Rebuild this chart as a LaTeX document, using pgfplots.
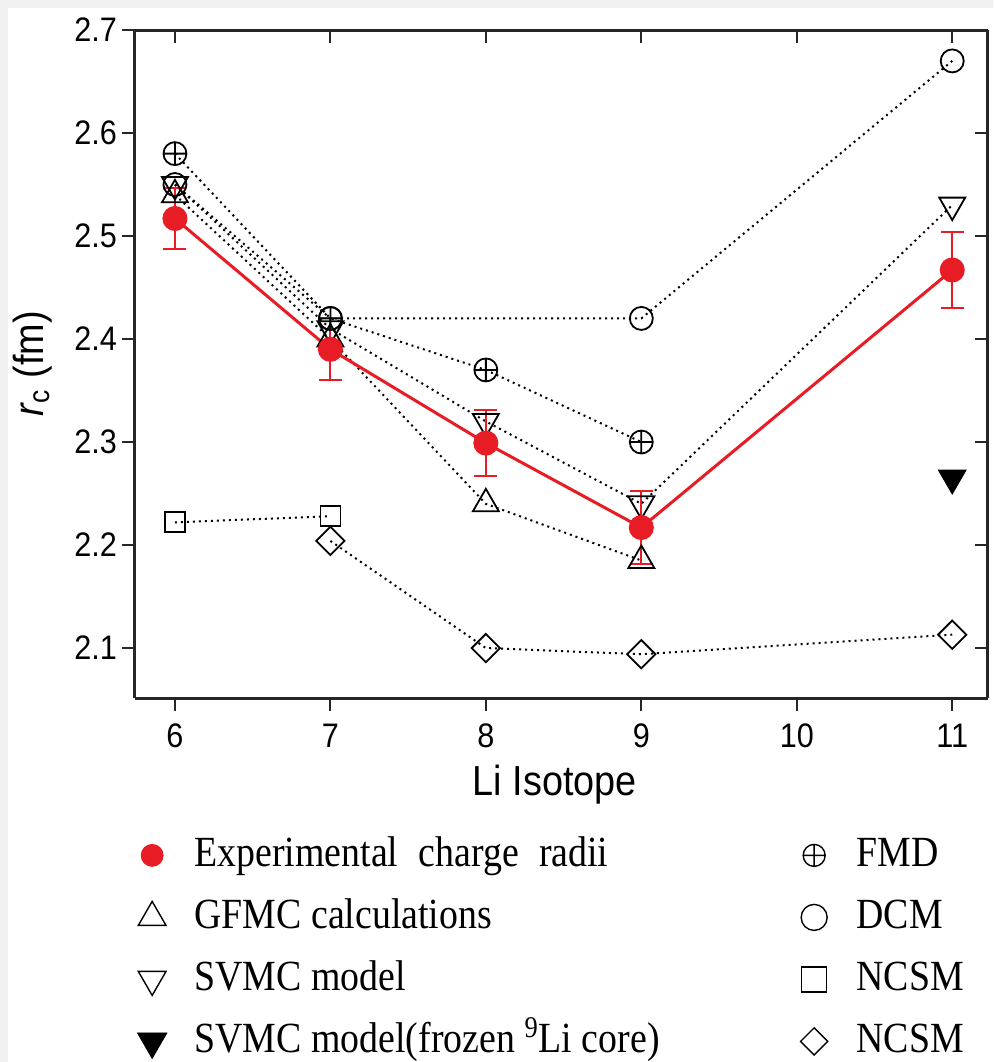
\documentclass[border=0pt]{standalone}
\usepackage{fontspec}
\setmainfont{Liberation Serif}
\newfontfamily\sansc[FakeStretch=0.9]{Liberation Sans}
\newfontfamily\legfont[FakeStretch=0.88]{Liberation Serif}
\usepackage{pgfplots}
\pgfplotsset{compat=1.18}
\usetikzlibrary{plotmarks}
\definecolor{expred}{RGB}{232,28,36}
\pgfplotsset{
  myax/.style={scale only axis, width=426.5pt, height=334pt,
    xmin=5.743, xmax=11.23, ymin=2.0515, ymax=2.7,
    xtick={6,7,8,9,10,11}, ytick={2.1,2.2,2.3,2.4,2.5,2.6,2.7},
    axis line style={line width=1.5pt, black!85},
    major tick length=6.5pt, tick style={line width=1pt, black!85}},
  dotl/.style={black, line width=1pt, dash pattern=on 1pt off 2pt},
  omark/.style={mark options={solid, fill=white, line width=0.9pt, black}},
}
\begin{document}
\begin{tikzpicture}
\useasboundingbox (-67.5pt,-182pt) rectangle (429pt,349pt);
\fill[gray!12] (-67.5pt,-182pt) rectangle (429pt,349pt);
\fill[white] (-63.5pt,-182pt) rectangle (429pt,345pt);
\begin{axis}[myax, axis x line*=bottom, axis y line*=left, tick align=outside,
  ticklabel style={font=\sansc\fontsize{17}{20}\selectfont},
  xticklabel style={yshift=-3pt},
  /pgf/number format/assume math mode=true,
  yticklabel style={xshift=1pt, /pgf/number format/.cd, fixed, fixed zerofill, precision=1},
  xlabel={Li Isotope},
  ylabel={\textit{r}\textsubscript{c} (fm)},
  label style={font=\sansc\fontsize{21}{24}\selectfont},
  xlabel style={at={(axis description cs:0.492,-0.13)}, anchor=center},
  ylabel style={at={(axis description cs:-0.12,0.5)}, anchor=center},
  clip=false,
  legend columns=2,
  legend cell align=left,
  legend image code/.code={\path (-6pt,0pt) (19pt,0pt); \draw[#1] plot coordinates {(0pt,0pt)};},
  legend style={at={(axis description cs:0.0024,-0.1976)}, anchor=north west,
    draw=none, fill=none, inner sep=0pt, font=\legfont\fontsize{21.5}{24}\selectfont,
    nodes={text height=16pt, text depth=5pt},
    /tikz/row sep=6pt,
    /tikz/every even column/.append style={column sep=68.5pt}},
]
% FMD
\addplot[dotl, mark=oplus, mark size=5.75pt, omark, forget plot] coordinates {(6,2.58)(7,2.42)(8,2.37)(9,2.30)};
% DCM
\addplot[dotl, mark=o, mark size=5.75pt, omark, forget plot] coordinates {(6,2.55)(7,2.42)(9,2.42)(11,2.67)};
% SVMC
\addplot[dotl, mark=triangle, mark size=7.5pt, mark options={solid, fill=white, line width=0.9pt, black, rotate=180}, forget plot] coordinates {(6,2.55)(7,2.41)(8,2.32)(9,2.24)(11,2.53)};
% GFMC
\addplot[dotl, mark=triangle, mark size=7.5pt, omark, forget plot] coordinates {(6,2.54)(7,2.40)(8,2.24)(9,2.185)};
% NCSM squares
\addplot[dotl, mark=square, mark size=5pt, omark, forget plot] coordinates {(6,2.222)(7,2.228)};
% NCSM diamonds
\addplot[dotl, mark=square, mark size=5pt, mark options={solid, fill=white, line width=0.9pt, black, rotate=45}, forget plot] coordinates {(7,2.204)(8,2.10)(9,2.094)(11,2.113)};
% SVMC frozen
\addplot[only marks, mark=triangle*, mark size=8pt, mark options={black, fill=black, rotate=180}, forget plot] coordinates {(11,2.265)};
% Experimental
\addplot[forget plot, expred, line width=1.5pt, mark=*, mark size=5.5pt, mark options={solid, fill=expred, draw=expred},
  error bars/.cd, y dir=both, y explicit,
  error bar style={line width=1pt, expred},
  error mark options={rotate=90, mark size=5.75pt, line width=1pt, expred}]
  coordinates {(6,2.517) +- (0,0.030) (7,2.390) +- (0,0.030) (8,2.299) +- (0,0.032) (9,2.217) +- (0,0.035) (11,2.467) +- (0,0.037)};
% legend
\addlegendimage{mark=*, mark size=5.5pt, expred, mark options={fill=expred}}
\addlegendentry{Experimental\hspace{0.25em} charge\hspace{0.25em} radii}
\addlegendimage{mark=oplus, mark size=5.5pt, black, mark options={line width=0.7pt}}
\addlegendentry{FMD}
\addlegendimage{mark=triangle, mark size=8pt, black, mark options={line width=0.7pt}}
\addlegendentry{GFMC calculations}
\addlegendimage{mark=o, mark size=6.5pt, black, mark options={line width=0.7pt}}
\addlegendentry{DCM}
\addlegendimage{mark=triangle, mark size=8pt, black, mark options={line width=0.7pt, rotate=180}}
\addlegendentry{SVMC model}
\addlegendimage{mark=square, mark size=6.25pt, black, mark options={line width=0.8pt}}
\addlegendentry{NCSM}
\addlegendimage{mark=triangle*, mark size=8.5pt, black, mark options={rotate=180, fill=black}}
\addlegendentry{SVMC model(frozen \textsuperscript{9}Li core)}
\addlegendimage{mark=square, mark size=4.8pt, black, mark options={line width=0.7pt, rotate=45}}
\addlegendentry{NCSM}
\end{axis}
\begin{axis}[myax, axis x line*=top, axis y line*=right, tick align=inside,
  xticklabels={}, yticklabels={}]
\end{axis}
\end{tikzpicture}
\end{document}
